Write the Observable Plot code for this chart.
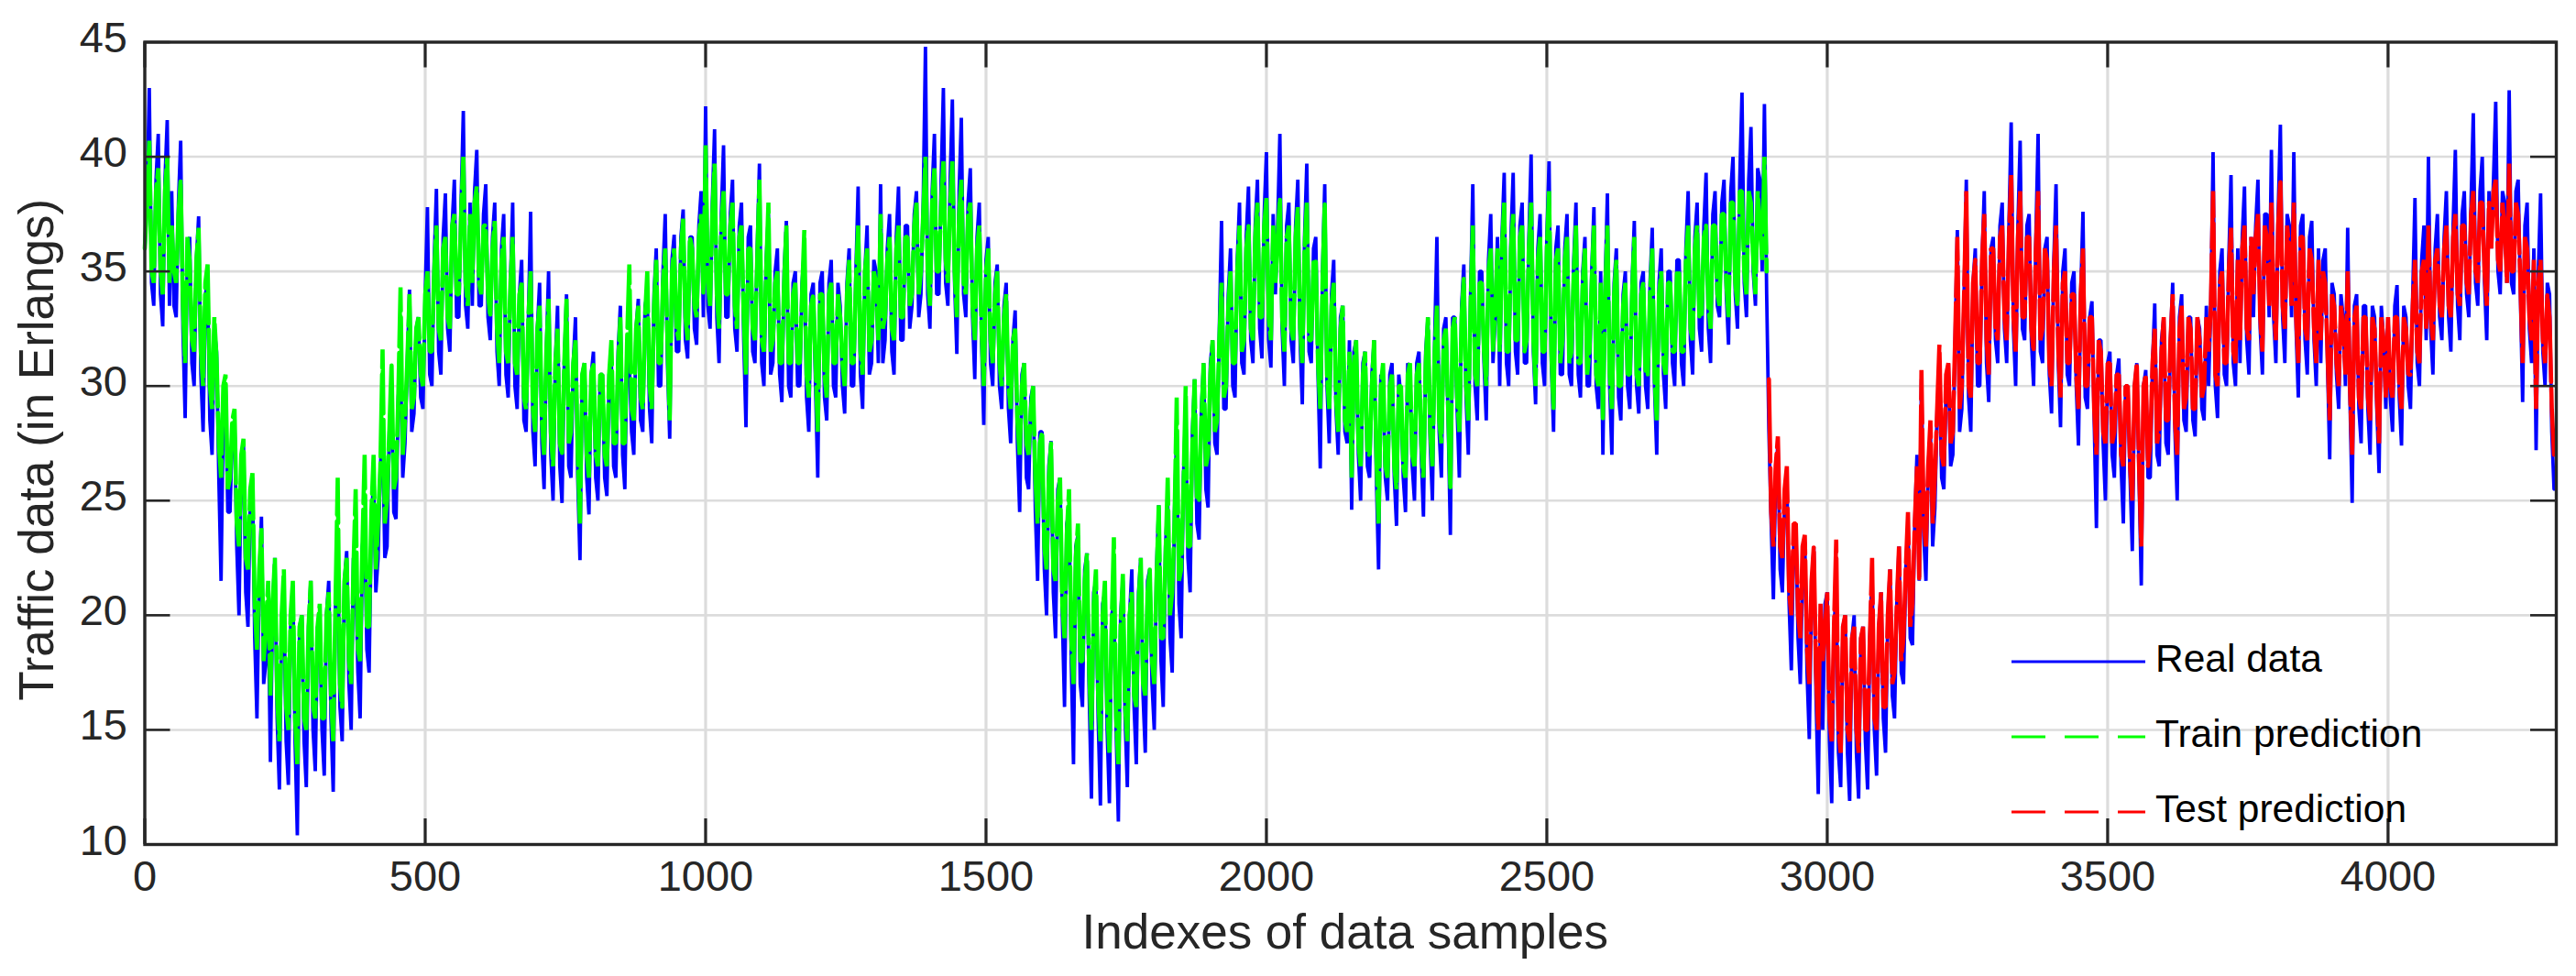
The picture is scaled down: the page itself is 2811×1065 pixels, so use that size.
<!DOCTYPE html>
<html><head><meta charset="utf-8">
<script src="https://cdn.jsdelivr.net/npm/d3@7"></script>
<script src="https://cdn.jsdelivr.net/npm/@observablehq/plot@0.6"></script>
<style>
html,body{margin:0;padding:0;background:#fff;}
#wrap{position:relative;width:2811px;height:1065px;overflow:hidden;font-family:"Liberation Sans",Arial,sans-serif;}
#legend{position:absolute;left:2195px;top:0;}
#legend div{position:absolute;left:0;white-space:nowrap;font-size:42.5px;color:#000;line-height:1;}
#legend svg{position:absolute;left:0;width:146px;height:6px;}
#legend span{position:absolute;left:157px;top:0;}
</style></head><body><div id="wrap"></div>
<script>
const xTicks = [0,500,1000,1500,2000,2500,3000,3500,4000];
const yTicks = [10,15,20,25,30,35,40,45];
const step = 8;
// Real data: one row per 200 samples, readings at even grid places
const realRows = [
[36,43,33.5,41,32.6,41.6,38.5,33,40.7,28.6,36.5,30,37.4,28,34.5,27,31.5,21.5,30,24.5,28.5,20,27.5,19.5,26],
[15.5,24.3,18,13.6,22.5,12.4,21,12.6,21.3,10.4,20,12.5,21.5,13.2,19.5,13,21.5,12.3,23,14.5,22.8,15,22,15.5,24],
[17.5,26,22.5,28,23,30,24.2,31,27.5,34.2,28.8,33,29,37.8,30,38.6,30.5,38.4,31.5,39,33,42,32.5,33.5,40.3],
[33.5,38.8,32,38,30,37.5,29.5,38,29,35.5,28,37.6,26.5,34.5,25.5,35,25,33.5,24.9,34,26,33,22.4,31,24.4],
[31.5,25,30.5,25.2,31,26,33.5,25.5,31,27,33.8,28,34,27.5,36,30,37.5,27.7,36.6,31.5,37.7,31.2,36.5,31.8,38.5],
[42.2,32.5,41.2,31,40.5,33,39,31.5,38,28.2,37,31,39.7,30,37.5,31,36,29.3,37.2,29.5,35,30,36,28,34.5],
[26,35,28.5,35.5,29.5,33.5,28.8,36,30,38.7,29,37,31,35,38.8,32,37.5,30.5,38.7,32,37,33.5,38.5,34,44.8],
[32.5,41,34,43,33.5,42.5,31.4,41.7,33,39.5,30.3,38,28.3,36.5,30,35.3,29,34.5,27.5,33.3,24.5,31,25.5,30,21.5],
[28,20,27.6,19,26,16,24.5,13.5,23.5,16,22.7,12,21.5,11.7,21,11.8,20.5,11,21.5,12.5,22,13.5,22.5,14,22],
[15,24.8,16,25,17.5,28,19,29,21,30.3,23.3,31,24.7,32,27,37.2,29,36,29.5,38,30.5,38.7,31,39,31.2],
[40.2,30.8,34,41,30,38,31,39,29.2,39.7,31,36.5,26.4,38.8,27.5,35.5,27,33.5,27.5,24.6,32,25,31.5,26,32],
[22,30,25,31,23.9,29.5,24.5,30.7,25,31.5,24.3,33,25,36.5,26,33,23.5,33,26,35.3,27,38.8,28.5,35,28.5],
[37.5,33,30,39.3,30,39.3,30.5,38,31,40.1,29.2,37.5,30,39.8,28,37,30.5,37.5,30,38,29.5,36.5,30,37.8,29],
[27,38.4,27,36,28.5,35,29,37.2,28.8,35,29,36.9,27,36,29,35,30,35.5,30,38.5,30.5,38,31.5,39.3,31],
[38.5,33,39,31.8,40,32.5,42.8,33,41.3,33.5,39,42.3,28,20.7,27.5,21,26,17.6,24,17,23.2,14.6,23,12.2,15],
[21,11.8,21,12.5,20,11.9,20,12,19.5,12.4,22,13,21,14,22,15.5,23,17,24,18.7,27,30.3,21.5,28,24.7],
[30.5,25.5,31,27,36.8,29,39,28,36,30,38.5,29.3,36.5,31,38,31,41.5,30,40.7,32,37.5,30,41,31,36.5],
[28.8,38.8,28.2,36,30,35,27.4,37.6,29,33.7,23.8,32,25,31.5,26,31.2,24,30,22.8,31,21.3,30.7,26,33.6,26.5],
[33,27,34.5,25,34,28,33,27.8,32.5,28.5,30,40.2,28.6,36,30,39.2,30,31,38.7,30.5,33,39,30.5,37.5,40.3],
[31,41.4,31,37,40.2,29.5,37.5,30.5,37.2,30,31,36,26.8,34,29,33,36.9,24.9,34,27.5,33.5,27,33,26.2,32],
[33,28,34.4,27.4,33,29,38.2,30,37,40,30.5,37.5,32,38.5,31.5,40.3,32,38.5,33,41.9,33.5,40,32,36,42.4],
[34,38,42.9,34,39,29.3,38,31,27.2,38.4,30,34,25.5]
];
// Real data: readings at the odd grid places
const realMid = [
[38,34.5,39,34,39,33.5,33.5,38,32.5,36,31,35.5,30.5,34,28.5,32.5,26,29,24.5,28,23,26.5,21,25,19],
[21.5,17,20.5,20.5,15.5,19.5,14.5,19.5,14.5,19.5,14.5,19.5,15,19.5,15,20,15.5,20.5,16,21.5,17,22.5,17.5,23,18.5],
[24,21,26.5,22.5,28,24.5,29.5,26,31,28,32.5,29.5,34,30.5,35.5,31.5,36.5,32.5,37,33,38,33.5,38,38.5,33.5],
[37.5,33,36.5,31.5,36,30.5,34.5,30,34,28.5,33,28,32.5,27.5,31.5,27,31,26.5,31,26.5,31,26,30.5,26,30.5],
[26,30.5,26,30.5,26.5,31.5,27,32,28,32.5,28.5,33.5,29,34,30,35,31,35.5,31.5,36.5,32,36.5,32.5,37,33],
[33.5,38,33,37.5,33,37.5,32.5,37,32,36.5,31.5,36,31,35.5,30.5,35,30.5,35,30,34.5,30,34.5,29.5,34,30],
[34.5,29.5,34.5,30,34.5,30,34.5,30,35,30.5,35,30.5,35.5,31,31,36,31.5,36.5,32,37,32.5,37.5,33,38,34],
[38.5,34,39,34.5,39,34.5,38.5,34,38,33,36.5,32,35.5,31,34.5,30,33.5,29,32,27.5,30.5,26,29.5,24.5,28],
[22,26.5,21,25.5,20,24,18,23,17,22,16.5,21,15.5,20.5,15,20,15,20,15.5,20,16,21,16.5,21.5,17],
[22,18,23,19,24.5,20.5,26,22.5,28,24,29,25.5,31,27.5,32.5,29,34,30,35.5,31,36.5,32,37,32.5,37.5],
[32,37.5,37,32.5,37,32,37,32,36.5,31.5,36,30.5,35,30,34,29,33,28,32,31.5,27,31,26.5,30.5,26],
[30.5,26,30.5,26,30.5,26,31,26.5,31,27,31.5,27.5,32,28,32.5,28.5,33,29,33.5,29.5,34,30,35,31,35.5],
[31,36.5,36.5,31,36.5,31.5,37,31,36.5,31.5,36,31,36.5,31,36,30.5,36,30.5,35.5,30.5,35,30,35,30,35],
[34.5,30,34.5,29.5,34,30,34.5,30,34.5,30,34.5,30,34.5,30.5,35,31,35.5,31,36,32,36.5,32.5,37,32.5,37.5],
[33.5,38,34,38.5,34,39,34.5,39,35,39.5,35,34,24,26,22,25,20.5,23,19,22,17.5,21,16.5,20,20.5],
[14.5,19.5,14,19.5,14,19,14,19,14.5,19,15,19.5,15.5,20,16.5,20.5,17.5,22,19,24,21.5,23.5,26.5,23,29],
[26,30,26.5,32,28,34,29.5,34.5,30,35.5,31,36,32,37,32.5,37,32.5,37,32.5,37,32,36.5,31.5,36,30.5],
[35.5,31,35,30.5,34.5,30,34,29.5,33,28.5,32,27.5,31,27,30.5,26.5,30,26,30,26,30,26,31,27,32],
[27.5,32,28,33,28.5,33,28.5,33,29,33.5,33.5,30,35,30.5,35.5,31,36,36.5,32,36.5,37,32.5,37.5,33,33],
[37.5,33,37.5,33,32.5,37,32,36.5,32,36,35.5,31,34.5,30.5,34,30,29.5,33.5,29,33.5,29,33.5,29,33.5,29],
[29.5,33.5,29.5,33.5,30,34,31,35.5,32,32.5,36,33,36.5,33,37,33.5,37.5,34,38,34.5,38.5,34.5,38.5,39,35],
[38.5,34.5,34.5,38.5,34,37,32.5,36,35,31.5,34.5,28]
];
// Train prediction
const trainRows = [
[36,40.7,34.5,39.5,34,40,37,34.5,39,31,35.5,31.5,36.9,30,35.3,29,31.2,26,30.5,26,29,23,27.7,22,26.2],
[18.5,23.8,19.5,16.5,22.5,14.5,22,15,21.5,13.5,20,15,21.5,15.5,20.5,15.5,21,14.5,26,16,22.5,17,25.5,18,27],
[19.5,27,24,31.6,25,31,26,34.3,28.5,34,29.5,33,30,35,31.5,37,32,36.5,32.5,37.5,34,40,33.5,34.5,38.7],
[34,37,33,37.2,31,36.5,31,36.5,30.5,34.5,29,35,28,33.5,27,33.8,26.5,32.5,27,33.8,28,32,24,31,26],
[31,26.5,30.5,26.5,32,27.5,33,27.5,35.3,28.5,33.5,29,35,29,35.5,31,36,28.5,36,32,37.3,32,36,33,37.5],
[40.5,33.5,39.7,32.5,38.5,34,38,32.5,37,30.5,36,32,39,31.5,38,32,35,31,37,31,34.5,31,36.8,29.5,34],
[28,34,29.5,34.5,31,33,30,35.5,31,37,30.5,36,32,34.5,37.5,33,36.5,32,37,33,36.5,34,38,35,40],
[33.5,39.5,35,39.8,34.5,39.8,33,39,34,38,32,37,30,36,31,35,30,34,29,32.5,27,31,27,30,24],
[28,22,27.5,21.5,26,19,25.5,17,24,18,22.7,15,22,14.5,21.5,14,23.4,13.5,21.8,14.5,21,16,22.5,16.5,22],
[17,24.8,19,26,21,29.5,22,30,23,30.3,25,31,27,32,28.5,34.5,30,35,31,37,32,37,32,38,33],
[38.2,32,34.5,38.2,31.5,37,32,37.8,31,38,32,35.5,29,38,29,34.5,28,33.5,28,26,32,26.5,31.5,27,32],
[24,31,26,30.5,25.5,30,26,31,26.5,31,26,33,26.5,33.5,27.5,32.5,25.5,33,28,34.7,28.5,37,30,34.5,30],
[36,33.5,31.5,38,31.5,37.5,32,37,32,38,30,36.5,31.5,38.5,29,36,32,36.5,31.5,37,31,36,31.5,37,30],
[28.5,37,29,35.5,30,34.5,30.5,36.5,30,34.5,30.5,36,28.5,35,30.5,34.5,31.5,35,31.5,37,32,37,33,37,32.5],
[37,33.5,37.5,33,38,33.5,38.5,34,38,34,37,40]
];
const trainMid = [
[38,35,38.5,35,38.5,34.5,35,37.5,33.5,36.5,32,35.5,31.5,34.5,30,33,27.5,30,25.5,28.5,24,27,22.5,25.5,20.5],
[22,18,21.5,20.5,16.5,20,16,20,15.5,19.5,15.5,19.5,16,19.5,15.5,20,16.5,20.5,17,21.5,18,22,18.5,23,19.5],
[24.5,22,26.5,24,28,25.5,29.5,27,31,29,32.5,30.5,34,31.5,35,32.5,36,33,37,34,37.5,34.5,37.5,38,34.5],
[37,34,36,32.5,35.5,31.5,34.5,31,34,29.5,33,29,32.5,28.5,31.5,28,31,27.5,31,27.5,31,27,30.5,27,30.5],
[27,30.5,27,30.5,27.5,31,27.5,32,29,32.5,29.5,33,30,33.5,31,34.5,32,35,32.5,36,33,36.5,33.5,36.5,34],
[34.5,37.5,34,37,34,37,33.5,36.5,33,36,32.5,35.5,32,35,31.5,34.5,31,34.5,31,34,31,34,30.5,33.5,31],
[34,30.5,34,31,34,31,34,31,34.5,31.5,35,31.5,35,32,32.5,35.5,32.5,36,33,36.5,33.5,37,34,37.5,35],
[38,35,38,35.5,38,35,37.5,34.5,37.5,33.5,36,32.5,35,32,34,31,33,30,32,28.5,30,27.5,29,26,27.5],
[23,26,22,25,20.5,23.5,19,22.5,18,21.5,17.5,20.5,16.5,20,16,19.5,15.5,19.5,16,20,16.5,20.5,17,21,18],
[21.5,19,22.5,20,24,21.5,25.5,23,27.5,25,28.5,26.5,30.5,28,32,29.5,33.5,31,35,31.5,36,32.5,36.5,33,37],
[33,37,36.5,33,36.5,32.5,36.5,32.5,36,32,35.5,31,34.5,30.5,33.5,29.5,32.5,28.5,31.5,31,27.5,30.5,27,30,27],
[30,26.5,30,26.5,30,26.5,30.5,27,30.5,27.5,31,28,31.5,28.5,32,29,32.5,29.5,33,30,33.5,30.5,34.5,31.5,35],
[31.5,36,36,31.5,36,32,36.5,31.5,36,32,35.5,31.5,36,31.5,35.5,31,35.5,31,35,31,34.5,30.5,34.5,30.5,34.5],
[34,30.5,34,30,33.5,30.5,34,30.5,34,30.5,34,30.5,34,31,34.5,31.5,35,31.5,35.5,32.5,36,33,36.5,33.5,37],
[34,37.5,34.5,38,34.5,38.5,35,38.5,35.5,38.5,35.5,35]
];
// Test prediction: first stretch, then one row per 200 samples
const testHead = [30.3,23,27.8,22.5,26.5,20,24,19,23.5,17,23,15,18];
const testHeadMid = [24.5,26.5,23,25.5,21,24,20,23,18.5,21.5,17.5,20.5,19.5];
const testRows = [
[21,14.5,23.3,14,20,14.5,19.5,14,19.5,15,22.5,15,21,16,22,17.5,23,19,24.5,20.5,26.5,30.7,23,28.5,26],
[31.8,26.5,31,28,36.5,30,38.5,29.5,35.5,31,37.5,30.5,36,32,37,32,39.2,31.5,38.5,33,36.5,31.5,38.5,32.5,35.5],
[30,37,29.5,35,31,34,29,36,30,33,27,31.5,27.5,31,28,30.5,26.5,30,25,31,23,30.5,27.5,32.5,28],
[33,28.5,34,27,33.5,29.5,32.5,29,32,30,31.5,38.5,30,35,31,36.9,31,32,37,32,34,37.5,31.5,36.5,38],
[32,39,32.5,36,38,31,36.5,32,35.5,31,32,34.5,28.5,33.5,30,32.5,35,27,33.5,29,33,28.5,32.5,27.5,32],
[33,29.5,33,29,32.5,30.5,35.5,31,35.5,37,32,36,33,37,33,37.5,33.5,37,34,38.5,34.5,38,33.5,36,39],
[35,37,39.7,35,37.5,31,36,32,29,35.5,31,33,27]
];
const testMid = [
[15.5,19.5,15,19.5,15,19,15,19,15,19,15.5,19.5,16,20,17,20.5,18,22,19.5,24,21.5,24,26.5,24,29],
[27,30.5,27.5,32,29,34,30,34.5,31,35.5,32,36,32.5,36.5,33,36.5,33,36.5,33,36.5,32.5,36,32,36,31],
[35,31.5,34.5,31,34,30.5,34,30,33,29,32,28,31,27.5,30.5,27,30,26.5,30,26.5,30,26.5,31,27.5,31.5],
[28.5,32,28.5,32.5,29,33,29,33,29.5,33,33.5,30.5,34.5,31,35,31.5,35.5,36,32.5,36.5,36.5,33,37,33.5,33.5],
[37,33.5,37,33.5,33,36.5,32.5,36,32.5,35.5,35,31.5,34,31,33.5,30.5,30,33,29.5,33,29.5,33,29.5,33,29.5],
[30,33,30,33,30.5,33.5,31.5,35,32.5,33,35.5,33.5,36,33.5,36.5,34,37,34.5,37.5,35,38,35,38,38.5,35.5],
[38,34.5,35,38,34.5,36.5,33,35.5,34.5,32,34,29]
];
const legendNames = ["Real data","Train prediction","Test prediction"];

const expand = (start, rows) => rows.flatMap((r,k) => r.map((y,j) => ({x:start+200*k+step*j, y})));
const byX = (a,b) => a.x-b.x;
const realPts = [...expand(0,realRows),...expand(4,realMid)].sort(byX);
const trainPts = [...expand(0,trainRows),...expand(4,trainMid)].sort(byX);
const testPts = [...expand(2896,[testHead]),...expand(2900,[testHeadMid]),...expand(3000,testRows),...expand(3004,testMid)].sort(byX);

const ink = "#262626", gridC = "#dcdcdc";
const W = 2811, H = 1065, mL = 157.5, mR = 22, mT = 45.5, mB = 144;
const pw = W-mL-mR, ph = H-mT-mB, tick = 28;
const dash = "37,21", denseDash = "90,7";

const chart = Plot.plot({
  width:W, height:H, marginLeft:mL, marginRight:mR, marginTop:mT, marginBottom:mB,
  style:{background:"#fff", fontFamily:'"Liberation Sans",Arial,sans-serif', overflow:"visible"},
  x:{domain:[0,4300]},
  y:{domain:[10,45]},
  marks:[
    Plot.ruleX(xTicks,{stroke:gridC,strokeWidth:3.2}),
    Plot.ruleY(yTicks,{stroke:gridC,strokeWidth:2.6}),
    Plot.line(realPts,{x:"x",y:"y",stroke:"#0000ff",strokeWidth:3.8,strokeLinejoin:"bevel"}),
    Plot.line(trainPts,{x:"x",y:"y",stroke:"#00ff00",strokeWidth:4.6,strokeLinejoin:"bevel",strokeDasharray:denseDash}),
    Plot.line(testPts,{x:"x",y:"y",stroke:"#ff0000",strokeWidth:4.6,strokeLinejoin:"bevel",strokeDasharray:denseDash}),
    Plot.ruleX(xTicks,{stroke:ink,strokeWidth:3.2,insetTop:ph-tick}),
    Plot.ruleX(xTicks,{stroke:ink,strokeWidth:3.2,insetBottom:ph-tick}),
    Plot.ruleY(yTicks,{stroke:ink,strokeWidth:2.6,insetRight:pw-tick}),
    Plot.ruleY(yTicks,{stroke:ink,strokeWidth:2.6,insetLeft:pw-tick}),
    Plot.frame({stroke:ink,strokeWidth:3.4}),
    Plot.axisX(xTicks,{anchor:"bottom",tickSize:0,tickPadding:17,fontSize:47,label:null,fill:ink,tickFormat:d=>String(d)}),
    Plot.axisY(yTicks,{anchor:"left",tickSize:0,tickPadding:19,fontSize:47,label:null,fill:ink,dy:-4}),
    Plot.text(["Indexes of data samples"],{text:d=>d,frameAnchor:"bottom",dx:-6,dy:97,lineAnchor:"middle",fontSize:53,fill:ink}),
    Plot.text(["Traffic data (in Erlangs)"],{text:d=>d,frameAnchor:"left",dx:-116.5,dy:7,rotate:-90,textAnchor:"middle",lineAnchor:"middle",fontSize:53,fill:ink})
  ]
});
const wrap = document.getElementById("wrap");
wrap.appendChild(chart);

const legendColors = ["#0000ff","#00ff00","#ff0000"];
const legendDash = ["none",dash,dash];
const legendY = [722,804,886];
const lg = document.createElement("div"); lg.id="legend";
legendNames.forEach((n,i)=>{
  const row = document.createElement("div");
  row.style.top = legendY[i]+"px";
  row.innerHTML = `<svg viewBox="0 0 146 6" style="top:-3px"><line x1="0" x2="146" y1="3" y2="3" stroke="${legendColors[i]}" stroke-width="3" stroke-dasharray="${legendDash[i]}"/></svg><span style="top:-24px">${n}</span>`;
  lg.appendChild(row);
});
wrap.appendChild(lg);
</script></body></html>
